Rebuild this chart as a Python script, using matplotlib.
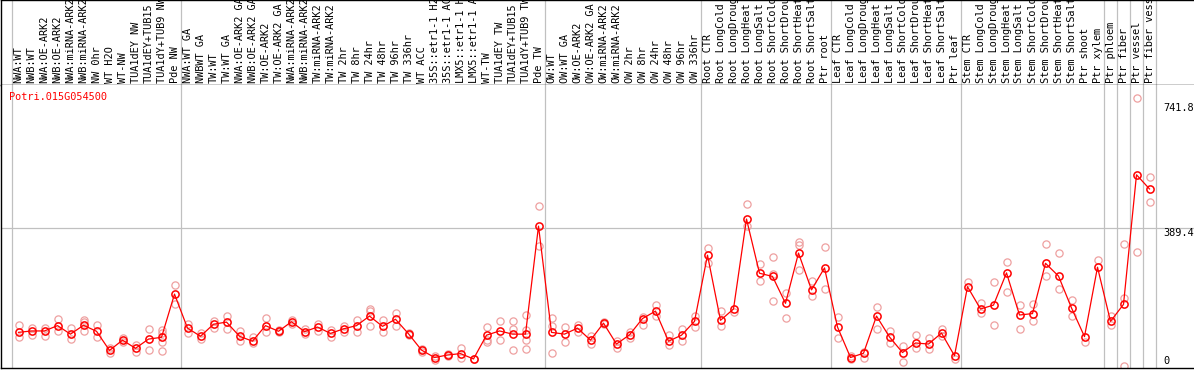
import matplotlib
matplotlib.use("Agg")
import matplotlib.pyplot as plt
import matplotlib.transforms as mtransforms

geneName = "Potri.015G054500"

sampleLabels = [
    "NWA:WT", "NWB:WT", "NWA:OE-ARK2", "NWB:OE-ARK2", "NWA:miRNA-ARK2", "NWB:miRNA-ARK2",
    "NW 0hr", "WT H2O", "WT-NW", "TUA1dEY NW", "TUA1dEY+TUB15", "TUA1dY+TUB9 NW", "Pde NW",
    "NWA:WT GA", "NWBWT GA", "TW:WT", "TW:WT GA", "NWA:OE-ARK2 GA", "NWB:OE-ARK2 GA",
    "TW:OE-ARK2", "TW:OE-ARK2 GA", "NWA:miRNA-ARK2", "NWB:miRNA-ARK2", "TW:miRNA-ARK2",
    "TW:miRNA-ARK2", "TW 2hr", "TW 8hr", "TW 24hr", "TW 48hr", "TW 96hr", "TW 336hr",
    "WT ACC", "35S::etr1-1 H2O", "35S::etr1-1 ACC", "LMX5::etr1-1 H2O", "LMX5::etr1-1 ACC",
    "WT-TW", "TUA1dEY TW", "TUA1dEY+TUB15", "TUA1dY+TUB9 TW", "Pde TW",
    "OW:WT", "OW:WT GA", "OW:OE-ARK2", "OW:OE-ARK2 GA", "OW:miRNA-ARK2", "OW:miRNA-ARK2",
    "OW 2hr", "OW 8hr", "OW 24hr", "OW 48hr", "OW 96hr", "OW 336hr",
    "Root CTR", "Root LongCold", "Root LongDrought", "Root LongHeat", "Root LongSalt",
    "Root ShortCold", "Root ShortDrought", "Root ShortHeat", "Root ShortSalt", "Ptr root",
    "Leaf CTR", "Leaf LongCold", "Leaf LongDrought", "Leaf LongHeat", "Leaf LongSalt",
    "Leaf ShortCold", "Leaf ShortDrought", "Leaf ShortHeat", "Leaf ShortSalt", "Ptr leaf",
    "Stem CTR", "Stem LongCold", "Stem LongDrought", "Stem LongHeat", "Stem LongSalt",
    "Stem ShortCold", "Stem ShortDrought", "Stem ShortHeat", "Stem ShortSalt", "Ptr shoot",
    "Ptr xylem", "Ptr phloem", "Ptr fiber", "Ptr vessel", "Ptr fiber vessel",
]

meanValues = [
    95, 99, 99, 114, 90, 115, 98, 44, 73, 50, 76, 81, 203,
    107, 84, 118, 124, 84, 70, 114, 98, 125, 97, 110, 92, 105, 114, 141, 112, 132,
    91, 45, 24, 31, 35, 20, 87, 99, 90, 90, 395,
    95, 90, 107, 73, 121, 62, 88, 134, 155, 70, 87, 126,
    313, 129, 161, 415, 262, 253, 177, 319, 215, 277,
    110, 24, 36, 141, 82, 38, 65, 62, 93, 29,
    224, 161, 172, 263, 144, 148, 290, 254, 164, 83, 279,
    126, 174, 540, 500,
]

replicateValues = [
    [115, 81], [107, 88], [107, 84], [133, 99], [106, 76], [130, 124, 98], [117, 83],
    [52, 36], [78, 67], [60, 40], [104, 46], [103, 92, 67, 42], [228, 175],
    [120, 93], [93, 76], [127, 108], [141, 104], [100, 70], [81, 66], [136, 95],
    [102, 95], [130, 118], [104, 90], [118, 100], [102, 81], [113, 96], [130, 97],
    [160, 156, 114], [130, 97], [150, 114], [94, 88], [48, 40], [28, 17], [33, 27],
    [52, 23], [20], [111, 74, 68], [127, 73], [127, 104, 44], [143, 103, 74, 47],
    [453, 338],
    [135, 113, 36], [110, 67], [116, 95], [85, 62], [124, 118], [71, 52], [97, 79],
    [138, 117], [172, 140], [87, 59], [105, 71], [142, 110],
    [333, 291], [156, 114], [152], [458, 394], [289, 240], [308, 260, 184],
    [206, 136], [350, 341, 272], [241, 198], [336, 218],
    [139, 79], [28, 21], [40, 24], [167, 104], [99, 64], [57, 12], [88, 50],
    [78, 47], [104, 85], [20],
    [236], [179, 150], [238, 116], [295, 209], [171, 104], [175, 126], [345, 255],
    [320, 218], [186, 141], [69], [298],
    [140, 116], [345, 192, 0], [758, 323], [534, 464],
]

# column boundaries where a grey separator is drawn
groupBreaks = [0, 13, 41, 53, 63, 73, 84, 85, 86, 87, 88]
tickValues = [0, 389.4, 741.8]

W, H = 1194, 370
fig = plt.figure(figsize=(W / 100, H / 100), dpi=100)

def figBox(left, top, right, bottom):
    return [left / W, 1 - bottom / H, (right - left) / W, (bottom - top) / H]

# pixel x = 18.5 + 13 * column
xLeft = (1 - 18.5) / 13
xRight = (W - 18.5) / 13
# pixel y = 366 - 0.3541 * value
yTop = (366 - 85) / 0.3541
yBottom = (366 - 368) / 0.3541

gridColor = "#c0c0c0"
mono = "DejaVu Sans Mono"

head = fig.add_axes(figBox(1, 0, W, 85))
ax = fig.add_axes(figBox(1, 85, W, 368))

for a in (head, ax):
    a.set_xlim(xLeft, xRight)
    a.set_xticks([])
    a.set_yticks([])
    a.spines["right"].set_visible(False)
    for s in ("left", "top", "bottom"):
        a.spines[s].set_color("black")
        a.spines[s].set_linewidth(1.0)
    for b in groupBreaks:
        a.axvline(b - 0.5, color=gridColor, lw=0.9, zorder=0)
head.set_ylim(0, 1)
ax.set_ylim(yBottom, yTop)
ax.spines["top"].set_visible(False)

for i in range(len(sampleLabels)):
    head.text(i, 2 / 85, sampleLabels[i], rotation=90, ha="center", va="bottom",
              family=mono, fontsize=7.4, color="black", clip_on=False)

ax.axhline(tickValues[1], color=gridColor, lw=0.9, zorder=0)

xs = list(range(len(meanValues)))
for i in xs:
    reps = replicateValues[i]
    ax.plot([i] * len(reps), reps, linestyle="none", marker="o", markersize=5.2,
            markerfacecolor="none", markeredgecolor="#eea0a0", markeredgewidth=0.9, zorder=2)
ax.plot(xs, meanValues, color="red", lw=0.9, marker="o", markersize=5.2,
        markerfacecolor="none", markeredgecolor="red", markeredgewidth=1.1, zorder=3)

labelTrans = mtransforms.blended_transform_factory(fig.transFigure, ax.transData)
for v in tickValues:
    txt = "0" if v == 0 else "%.1f" % v
    ax.text(1163 / W, v, txt, transform=labelTrans, ha="left",
            va="bottom" if v == 0 else "top", family=mono, fontsize=7.4, color="black")

fig.text(9 / W, 1 - 97 / H, geneName, ha="left", va="center", family=mono,
         fontsize=7.4, color="red")

fig.savefig("out.png", dpi=100)
